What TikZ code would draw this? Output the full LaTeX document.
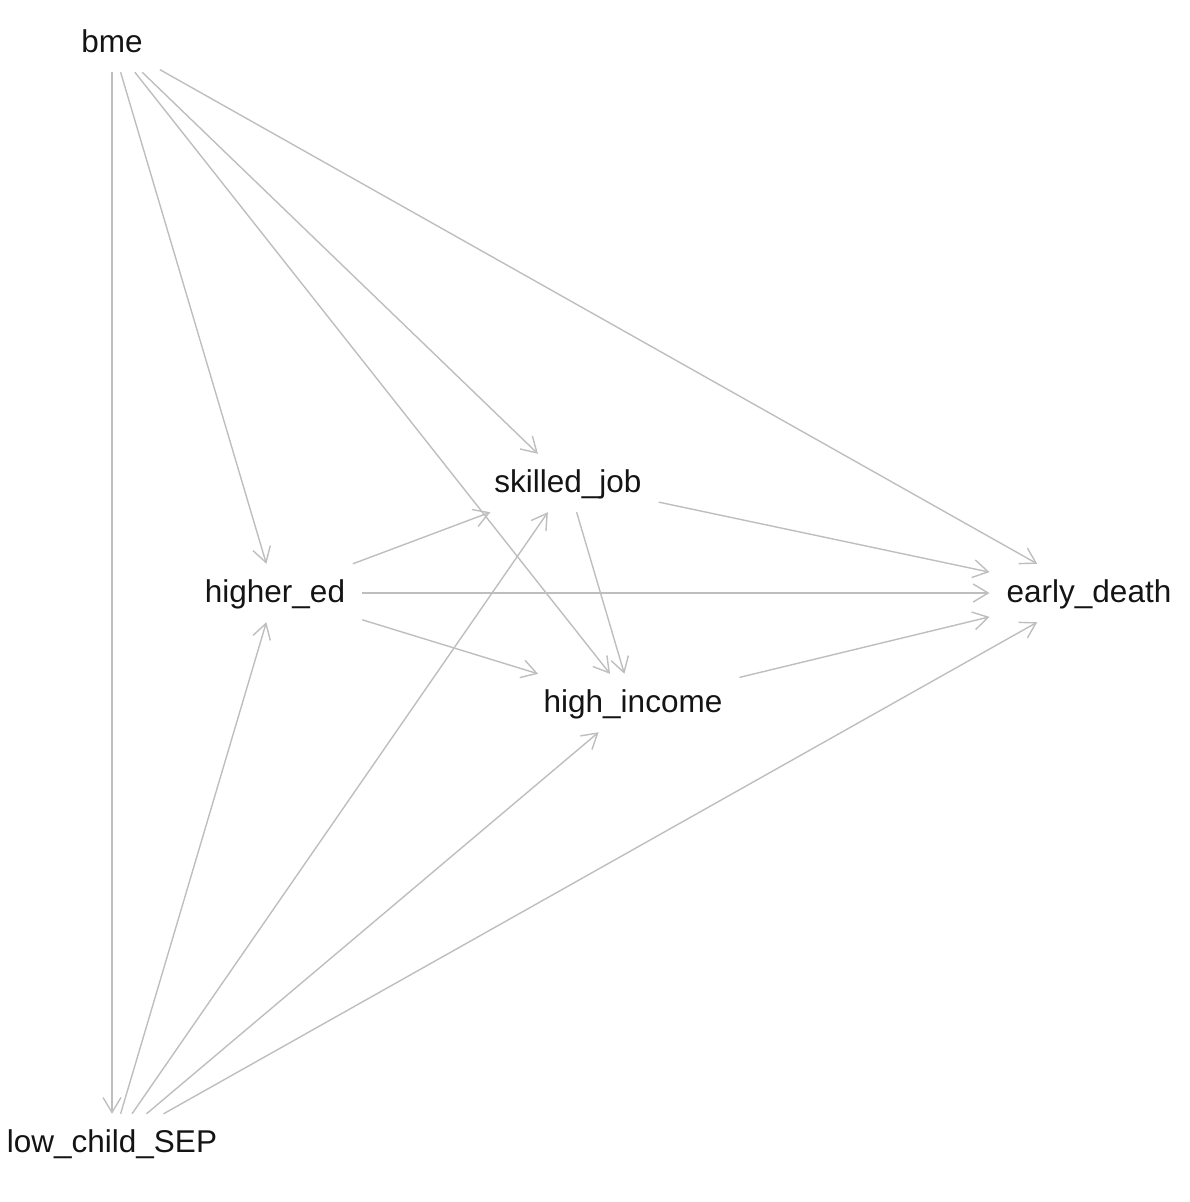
\documentclass[tikz,border=0pt]{standalone}
\usepackage{fontspec}
\setmainfont{Liberation Sans}
\usetikzlibrary{arrows.meta}
\definecolor{edgegray}{RGB}{190,190,190}
\begin{document}
\begin{tikzpicture}[x=1pt,y=-1pt,
  vtx/.style={rectangle, inner xsep=17pt, inner ysep=0pt, minimum height=58pt,
    text height=24pt, text depth=6pt, font=\fontsize{31.5}{36}\selectfont, text={rgb,255:red,20;green,20;blue,20}},
  edge/.style={draw=edgegray, line width=1.4pt,
    -{Straight Barb[length=15pt,width=18pt,line width=1.4pt]}}]
\useasboundingbox (0,0) rectangle (1190,1202);
\node[vtx] (bme) at (112,43) {bme};
\node[vtx] (sj) at (568,483) {skilled\_job};
\node[vtx] (he) at (275,593) {higher\_ed};
\node[vtx] (ed) at (1089,593) {early\_death};
\node[vtx] (hi) at (633,703) {high\_income};
\node[vtx] (lcs) at (112,1143) {low\_child\_SEP};
\draw[edge] (bme) -- (lcs);
\draw[edge] (bme) -- (he);
\draw[edge] (bme) -- (hi);
\draw[edge] (bme) -- (sj);
\draw[edge] (bme) -- (ed);
\draw[edge] (sj) -- (ed);
\draw[edge] (sj) -- (hi);
\draw[edge] (he) -- (sj);
\draw[edge] (he) -- (ed);
\draw[edge] (he) -- (hi);
\draw[edge] (hi) -- (ed);
\draw[edge] (lcs) -- (he);
\draw[edge] (lcs) -- (sj);
\draw[edge] (lcs) -- (hi);
\draw[edge] (lcs) -- (ed);
\end{tikzpicture}
\end{document}
